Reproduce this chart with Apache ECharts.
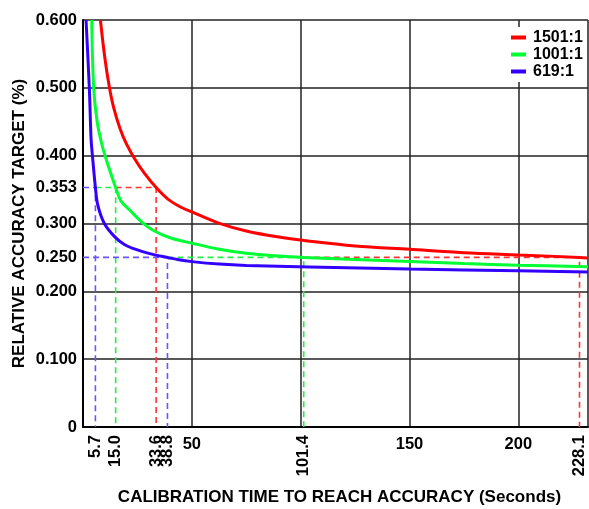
<!DOCTYPE html>
<html>
<head>
<meta charset="utf-8">
<script src="https://cdn.jsdelivr.net/npm/echarts@6/dist/echarts.min.js"></script>
<style>
  html, body { margin: 0; padding: 0; background: #fff; }
  #main { width: 589px; height: 509px; }
</style>
</head>
<body>
<div id="main"></div>
<script>
// curve data: [seconds, target %]
var red1501 = [[8.0, 0.600], [10, 0.545], [12, 0.503], [14, 0.472], [17, 0.440], [20, 0.417], [24, 0.394],
    [28, 0.375], [33.6, 0.353], [39, 0.336], [45, 0.324], [50, 0.317], [62, 0.301], [75, 0.289], [90, 0.280],
    [104, 0.274], [125, 0.267], [150, 0.262], [175, 0.257], [200, 0.2537], [228.1, 0.250], [232, 0.249]];
var green1001 = [[4.0, 0.600], [4.9, 0.500], [6.5, 0.450], [8.8, 0.415], [11.4, 0.387], [15.0, 0.353],
    [17.5, 0.333], [22, 0.318], [27.4, 0.301], [32.8, 0.289], [40, 0.279], [50, 0.271], [62.6, 0.262],
    [75, 0.256], [90, 0.252], [101.4, 0.250], [125, 0.247], [150, 0.244], [175, 0.241], [200, 0.2385], [232, 0.2364]];
var blue619 = [[1.4, 0.600], [2.9, 0.500], [3.7, 0.425], [4.2, 0.405], [5.7, 0.353], [6.8, 0.327], [9.8, 0.300],
    [14.4, 0.281], [19, 0.269], [25, 0.261], [33, 0.2537], [38.8, 0.250], [44, 0.2465], [50, 0.2438],
    [62.6, 0.2402], [75, 0.2382], [104, 0.2358], [150, 0.2328], [200, 0.2302], [232, 0.2286]];

// dashed guide lines: where each curve reaches the two targets
var refTargets = [0.353, 0.25];
var redRefX = [33.6, 228.1];
var greenRefX = [15.0, 101.4];
var blueRefX = [5.7, 38.8];

// tick labels
var yLabels = [0, 0.1, 0.2, 0.25, 0.3, 0.353, 0.4, 0.5, 0.6];
var xLabelsRotated = [5.7, 15.0, 33.6, 38.8, 101.4, 228.1];
var xLabelsFlat = [50, 150, 200];

var names = ['1501:1', '1001:1', '619:1'];
var font = "'Liberation Sans', Arial, sans-serif";

// each guide runs left along its target until it meets the next guide to the left
function refSeries(xs, prevs, color) {
    var out = [];
    for (var i = 0; i < xs.length; i++) {
        out.push({
            type: 'line',
            data: [[prevs[i], refTargets[i]], [xs[i], refTargets[i]], [xs[i], 0]],
            symbol: 'none',
            silent: true,
            lineStyle: { color: color, width: 1.6, type: [6, 4] },
            z: 1
        });
    }
    return out;
}

function curve(name, data, color) {
    return {
        name: name,
        type: 'line',
        data: data,
        symbol: 'none',
        smooth: 0.35,
        lineStyle: { color: color, width: 3 },
        itemStyle: { color: color },
        z: 3
    };
}

var series = [].concat(
    refSeries(redRefX, greenRefX, '#ff3333'),
    refSeries(greenRefX, blueRefX, '#22ee44'),
    refSeries(blueRefX, [0, 0], '#6655ff'),
    [curve(names[0], red1501, '#ff0000'),
     curve(names[1], green1001, '#00ff33'),
     curve(names[2], blue619, '#3300ff')]
);

var myChart = echarts.init(document.getElementById('main'));
var option = {
    animation: false,
    textStyle: { fontFamily: font },
    grid: { left: 83, top: 20, right: 1, bottom: 82, outerBoundsMode: 'none', containLabel: false },
    legend: {
        data: names,
        orient: 'vertical',
        left: 507,
        top: 27,
        padding: [2, 4, 2, 4],
        itemGap: 0,
        itemWidth: 15,
        itemHeight: 4,
        icon: 'rect',
        backgroundColor: '#fff',
        textStyle: { fontSize: 16, fontWeight: 'bold', color: '#000', fontFamily: font, lineHeight: 17, padding: [0, 0, 0, 2] }
    },
    xAxis: [{
        type: 'value',
        min: 0,
        max: 232,
        interval: 50,
        name: 'CALIBRATION TIME TO REACH ACCURACY (Seconds)',
        nameLocation: 'middle',
        nameGap: 62,
        nameMoveOverlap: false,
        nameTextStyle: { fontSize: 17, fontWeight: 'bold', color: '#000', fontFamily: font, padding: [0, 0, 0, 8] },
        axisLine: { show: true, lineStyle: { color: '#000', width: 2 } },
        axisTick: { show: false },
        splitLine: { show: true, lineStyle: { color: '#222', width: 1.5 } },
        axisLabel: {
            customValues: xLabelsRotated,
            rotate: 90,
            margin: 8,
            fontSize: 16.5,
            fontWeight: 'bold',
            color: '#000',
            fontFamily: font,
            formatter: function (v) { return v.toFixed(1); }
        }
    }, {
        type: 'value',
        min: 0,
        max: 232,
        position: 'bottom',
        axisLine: { show: false },
        axisTick: { show: false },
        splitLine: { show: false },
        axisLabel: {
            customValues: xLabelsFlat,
            margin: 9,
            fontSize: 16.5,
            fontWeight: 'bold',
            color: '#000',
            fontFamily: font
        }
    }],
    yAxis: {
        type: 'value',
        min: 0,
        max: 0.6,
        interval: 0.1,
        name: 'RELATIVE ACCURACY TARGET (%)',
        nameLocation: 'middle',
        nameGap: 55,
        nameMoveOverlap: false,
        nameTextStyle: { fontSize: 17, fontWeight: 'bold', color: '#000', fontFamily: font },
        axisLine: { show: true, lineStyle: { color: '#000', width: 2 } },
        axisTick: { show: false },
        splitLine: { show: true, lineStyle: { color: '#222', width: 1.5 } },
        axisLabel: {
            customValues: yLabels,
            margin: 6,
            fontSize: 16.5,
            fontWeight: 'bold',
            color: '#000',
            fontFamily: font,
            formatter: function (v) { return v === 0 ? '0' : v.toFixed(3); }
        }
    },
    series: series
};
myChart.setOption(option);
</script>
</body>
</html>
